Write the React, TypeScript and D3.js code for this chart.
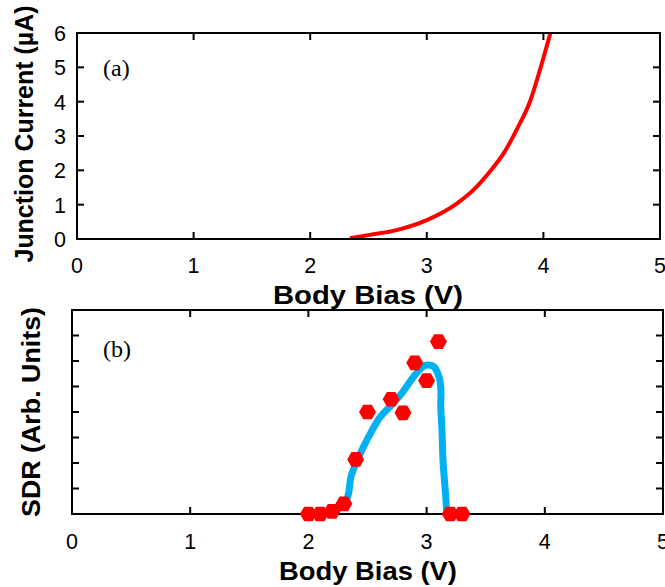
import React, { useEffect, useRef } from 'react';
import * as d3 from 'd3';

// panel (a): junction current vs body bias
const currentBias = [2.34, 2.51, 2.74, 3.0, 3.26, 3.4, 3.54, 3.66, 3.77, 3.89, 3.97, 4.06];
const currentValue = [0.02, 0.12, 0.26, 0.55, 1.04, 1.43, 1.96, 2.5, 3.18, 4.05, 4.92, 6.0];

// panel (b): measured SDR (hexagons)
const sdrBias = [2.0, 2.1, 2.2, 2.3, 2.4, 2.5, 2.7, 2.8, 2.9, 3.0, 3.1, 3.2, 3.3];
const sdrValue = [0, 0, 0.1, 0.4, 2.14, 4.0, 4.5, 3.97, 5.93, 5.23, 6.76, 0, 0];

// panel (b): fitted SDR trend (blue)
const fitBias = [2.31, 2.34, 2.36, 2.39, 2.46, 2.54, 2.61, 2.69, 2.79, 2.89, 2.97, 3.01, 3.06, 3.1, 3.12, 3.12, 3.13, 3.14, 3.16, 3.17];
const fitValue = [0.35, 0.81, 1.46, 1.85, 2.58, 3.29, 3.82, 4.21, 4.73, 5.38, 5.78, 5.84, 5.78, 5.45, 4.99, 4.21, 3.29, 1.99, 0.81, 0.05];

const xTicks = [0, 1, 2, 3, 4, 5];
const yTicksA = [0, 1, 2, 3, 4, 5, 6];
const yTicksB = [1, 2, 3, 4, 5, 6, 7];

const SANS = '"Liberation Sans", Arial, sans-serif';
const SERIF = '"Liberation Serif", "Times New Roman", serif';

const App = () => {
  const svgRef = useRef<SVGSVGElement>(null);

  useEffect(() => {
    const svg = d3.select(svgRef.current);
    svg.selectAll('*').remove();

    const tickLen = 7;
    const tickFont = 21.5;

    const frame = (x: any, y: any, xIn: number[], yIn: number[]) => {
      const [x0, x1] = x.range();
      const [y0, y1] = y.range();
      const g = svg.append('g');
      g.append('rect')
        .attr('x', x0).attr('y', y1)
        .attr('width', x1 - x0).attr('height', y0 - y1)
        .attr('fill', 'none').attr('stroke', '#000').attr('stroke-width', 2);
      xIn.forEach(t => {
        g.append('line').attr('x1', x(t)).attr('x2', x(t)).attr('y1', y0).attr('y2', y0 - tickLen).attr('stroke', '#000').attr('stroke-width', 2);
        g.append('line').attr('x1', x(t)).attr('x2', x(t)).attr('y1', y1).attr('y2', y1 + tickLen).attr('stroke', '#000').attr('stroke-width', 2);
      });
      yIn.forEach(t => {
        g.append('line').attr('x1', x0).attr('x2', x0 + tickLen).attr('y1', y(t)).attr('y2', y(t)).attr('stroke', '#000').attr('stroke-width', 2);
        g.append('line').attr('x1', x1).attr('x2', x1 - tickLen).attr('y1', y(t)).attr('y2', y(t)).attr('stroke', '#000').attr('stroke-width', 2);
      });
      return g;
    };

    // ---------- panel (a)
    const xA = d3.scaleLinear().domain([0, 5]).range([77, 660]);
    const yA = d3.scaleLinear().domain([0, 6]).range([239, 33]);

    svg.append('clipPath').attr('id', 'clipA')
      .append('rect').attr('x', 77).attr('y', 33).attr('width', 583).attr('height', 206);

    const lineA = d3.line<number>()
      .x((d, i) => xA(currentBias[i]))
      .y(d => yA(d))
      .curve(d3.curveMonotoneX);

    svg.append('path')
      .attr('d', lineA(currentValue))
      .attr('clip-path', 'url(#clipA)')
      .attr('fill', 'none')
      .attr('stroke', '#ff0000')
      .attr('stroke-width', 4);

    frame(xA, yA, [1, 2, 3, 4], [1, 2, 3, 4, 5]);

    svg.selectAll('.xta')
      .data(xTicks).enter().append('text')
      .attr('x', d => xA(d)).attr('y', 273)
      .attr('text-anchor', 'middle')
      .style('font-family', SANS).attr('font-size', tickFont)
      .text(d => d);

    svg.selectAll('.yta')
      .data(yTicksA).enter().append('text')
      .attr('x', 66).attr('y', d => yA(d) + 8)
      .attr('text-anchor', 'end')
      .style('font-family', SANS).attr('font-size', tickFont)
      .text(d => d);

    svg.append('text')
      .attr('x', 273).attr('y', 304)
      .attr('textLength', 190).attr('lengthAdjust', 'spacingAndGlyphs')
      .style('font-family', SANS).attr('font-size', 25).attr('font-weight', 'bold')
      .text('Body Bias (V)');

    svg.append('text')
      .attr('transform', 'translate(33,134) rotate(-90)')
      .attr('text-anchor', 'middle')
      .attr('textLength', 257).attr('lengthAdjust', 'spacingAndGlyphs')
      .style('font-family', SANS).attr('font-size', 25).attr('font-weight', 'bold')
      .text('Junction Current (\u00b5A)');

    svg.append('text')
      .attr('x', 103).attr('y', 76)
      .style('font-family', SERIF).attr('font-size', 24)
      .text('(a)');

    // ---------- panel (b)
    const xB = d3.scaleLinear().domain([0, 5]).range([72, 663]);
    const yB = d3.scaleLinear().domain([0, 8]).range([514, 310]);

    const lineB = d3.line<number>()
      .x((d, i) => xB(fitBias[i]))
      .y(d => yB(d))
      .curve(d3.curveCatmullRom.alpha(0.5));

    svg.append('path')
      .attr('d', lineB(fitValue))
      .attr('fill', 'none')
      .attr('stroke', '#00b0f0')
      .attr('stroke-width', 7)
      .attr('stroke-linecap', 'round')
      .attr('stroke-linejoin', 'round');

    frame(xB, yB, [1, 2, 3, 4], yTicksB);

    const r = 8.5;
    const hex = d3.range(6).map(k => [r * Math.cos((k * Math.PI) / 3), r * Math.sin((k * Math.PI) / 3)] as [number, number]);
    const hexPath = d3.line()(hex) + 'Z';

    svg.selectAll('.hex')
      .data(sdrValue).enter().append('path')
      .attr('d', hexPath)
      .attr('transform', (d, i) => `translate(${xB(sdrBias[i])},${yB(d)})`)
      .attr('fill', '#ff0000');

    svg.selectAll('.xtb')
      .data(xTicks).enter().append('text')
      .attr('x', d => xB(d)).attr('y', 549)
      .attr('text-anchor', 'middle')
      .style('font-family', SANS).attr('font-size', tickFont)
      .text(d => d);

    svg.append('text')
      .attr('x', 279).attr('y', 580)
      .attr('textLength', 178).attr('lengthAdjust', 'spacingAndGlyphs')
      .style('font-family', SANS).attr('font-size', 25).attr('font-weight', 'bold')
      .text('Body Bias (V)');

    svg.append('text')
      .attr('transform', 'translate(40,412) rotate(-90)')
      .attr('text-anchor', 'middle')
      .attr('textLength', 210).attr('lengthAdjust', 'spacingAndGlyphs')
      .style('font-family', SANS).attr('font-size', 26).attr('font-weight', 'bold')
      .text('SDR (Arb. Units)');

    svg.append('text')
      .attr('x', 103).attr('y', 357)
      .style('font-family', SERIF).attr('font-size', 24)
      .text('(b)');
  }, []);

  return (
    <svg
      ref={svgRef}
      width={665}
      height={587}
      style={{ position: 'absolute', left: 0, top: 0, background: '#fff' }}
    />
  );
};

export default App;
